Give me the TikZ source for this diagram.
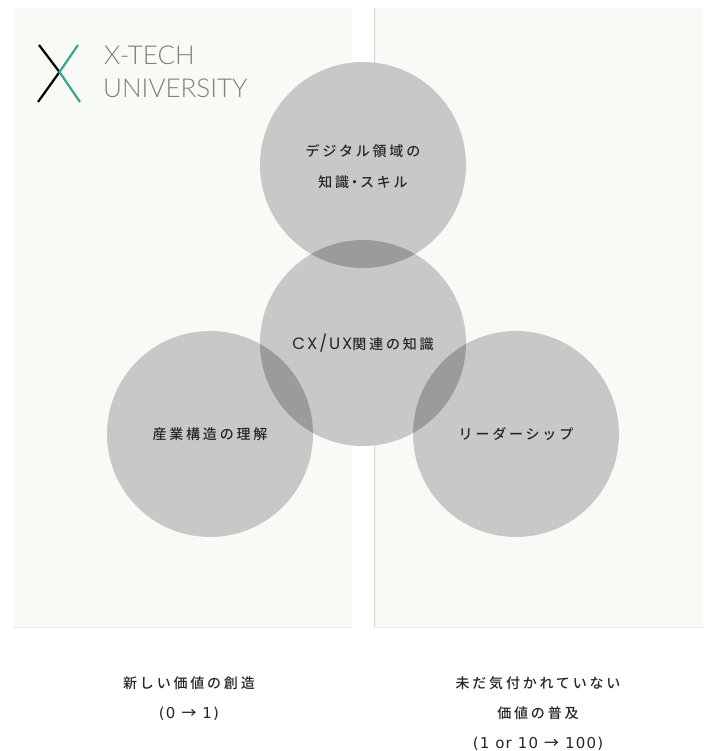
\documentclass[tikz,border=0pt]{standalone}
\usepackage{fontspec}
\usepackage{tikz}
\newfontfamily\jpfont[LetterSpace=20]{Noto Sans CJK JP Medium}
\newfontfamily\cxfont[LetterSpace=12]{Poppins}
\newfontfamily\numfont[LetterSpace=8]{DejaVu Sans}
\newfontfamily\logofont{Lato Light}
\newcommand{\numtext}[1]{{\numfont\fontsize{15}{30}\selectfont #1}}
\definecolor{panelgreen}{RGB}{248,251,245}
\definecolor{logoteal}{RGB}{62,160,145}
\definecolor{circlegray}{RGB}{200,200,200}
\definecolor{lensgray}{RGB}{155,155,155}
\begin{document}
\begin{tikzpicture}
                [
                x=1pt,y=-1pt,
                panel/.style={fill=panelgreen,draw=none,inner sep=0pt,outer sep=0pt},
                vertex/.style={circle,fill=circlegray,minimum size=206pt,inner sep=0pt,align=center,font=\jpfont\fontsize{14}{31}\selectfont,text=black!85},
                vertextext/.style={inner sep=0pt,align=center,font=\jpfont\fontsize{14}{31}\selectfont,text=black!85},
                caption/.style={inner sep=0pt,align=center,font=\jpfont\fontsize{14}{30}\selectfont,text=black!85},
                logotext/.style={anchor=west,inner sep=0pt,font=\logofont\fontsize{26}{33}\selectfont,text=black!50}
                ]
            \useasboundingbox (0,0) rectangle (703,751);
            \node[panel,minimum width=339pt,minimum height=619pt] (left) at (182.5,317.5) {};
            \node[panel,minimum width=329pt,minimum height=619pt] (right) at (538.5,317.5) {};
            \draw[black!18,line width=.8pt] (right.north west) -- (right.south west);
            \draw[black!8,line width=.6pt] (right.south west) -- (right.south east);
            \draw[black!8,line width=.6pt] (left.south west) -- (left.south east);
            \coordinate (xa) at (39,45);
            \coordinate (xb) at (38,102);
            \coordinate (xc) at (59.5,72);
            \coordinate (xd) at (78,45);
            \coordinate (xe) at (80,102);
            \draw[black,line width=2.2pt] (xa) -- (xc) -- (xb);
            \draw[logoteal,line width=2.2pt] (xd) -- (xc) -- (xe);
            \node[logotext] (xtech) at (104,55) {X-TECH};
            \node[logotext] (univ) at (103,88) {UNIVERSITY};
            \node[vertex] (7) at (363,165) {};
            \node[vertex] (8) at (363,343) {{\cxfont\fontsize{16.5}{31}\selectfont CX/UX}関連の知識};
            \node[vertex] (6) at (210,434) {産業構造の理解};
            \node[vertex] (9) at (516,434) {リーダーシップ};
            \foreach \c in {7,6,9}
              {
              \begin{scope}
              \clip (\c) circle (103pt);
              \fill[lensgray] (8) circle (103pt);
              \end{scope}
              }
            \node[vertextext] (skill) at (363,167) {デジタル領域の\\知識\kern-1.5pt ・\kern-1.5pt スキル};
            \node[caption] (new) at (189,699) {新しい価値の創造\\\numtext{(0 {\jpfont →} 1)}};
            \node[caption] (spread) at (538,713.5) {未だ気付かれていない\\価値の普及\\\numtext{(1 or 10 {\jpfont →} 100)}};
            \end{tikzpicture}
\end{document}
